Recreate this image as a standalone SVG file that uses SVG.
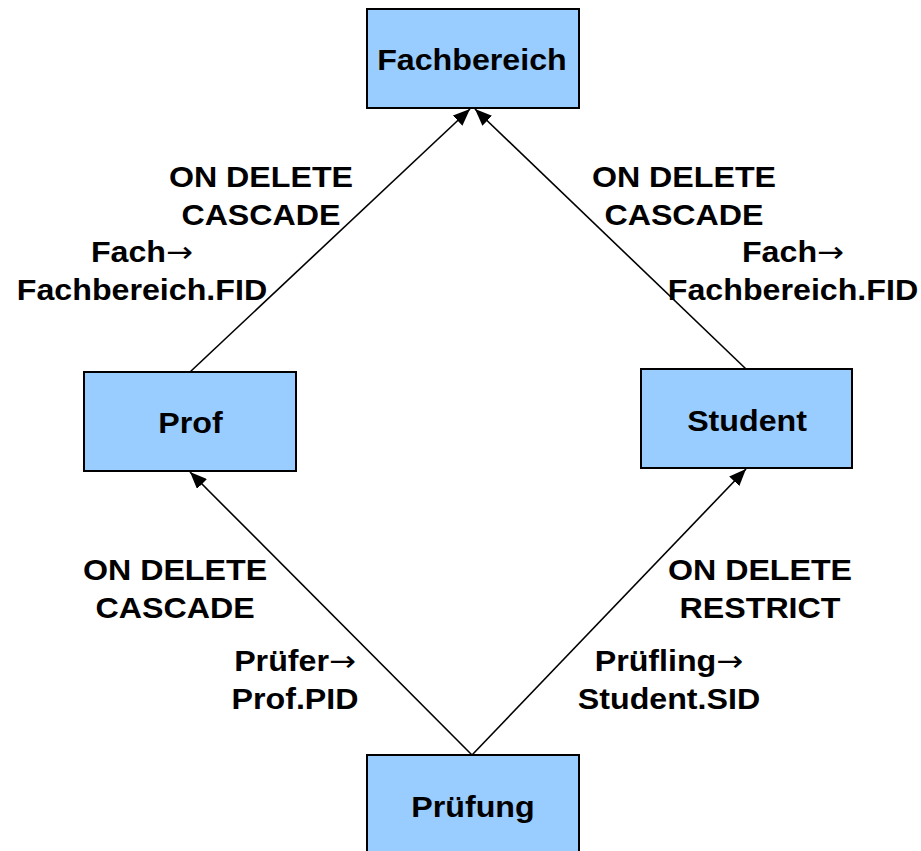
<svg xmlns="http://www.w3.org/2000/svg" width="921" height="851" viewBox="0 0 921 851">
<style>
.box{fill:#99ccff;stroke:#000;stroke-width:2}
.lbl{font-family:"Liberation Sans",Arial,sans-serif;font-weight:bold;font-size:29px;fill:#000;text-anchor:middle}
.ar{font-family:"DejaVu Sans",sans-serif;font-weight:normal}
.edge{stroke:#000;stroke-width:1.6;fill:none;marker-end:url(#ah)}
</style>
<defs>
<marker id="ah" markerUnits="userSpaceOnUse" markerWidth="18" markerHeight="14" refX="17" refY="7" orient="auto">
<path d="M0,0 L17,7 L0,14 Z" fill="#000"/>
</marker>
</defs>
<rect width="921" height="851" fill="#fff"/>
<g id="connectors">
<line class="edge" x1="190" y1="372" x2="470" y2="109"/>
<line class="edge" x1="746" y1="369" x2="475" y2="109"/>
<line class="edge" x1="472" y1="755" x2="190" y2="472"/>
<line class="edge" x1="472" y1="755" x2="746" y2="469"/>
</g>
<g id="fachbereich">
<rect class="box" x="367" y="9" width="212" height="99"/>
<text class="lbl" transform="scale(1.11 1)" x="425.2" y="70">Fachbereich</text>
</g>
<g id="prof">
<rect class="box" x="84" y="372" width="212" height="99"/>
<text class="lbl" transform="scale(1.11 1)" x="171.6" y="433">Prof</text>
</g>
<g id="student">
<rect class="box" x="641" y="369" width="211" height="99"/>
<text class="lbl" transform="scale(1.11 1)" x="673" y="431">Student</text>
</g>
<g id="pruefung">
<rect class="box" x="367" y="755" width="212" height="110"/>
<text class="lbl" transform="scale(1.11 1)" x="426.1" y="817">Prüfung</text>
</g>
<g id="labels" transform="scale(1.11 1)">
<text class="lbl" x="235.1" y="187">ON DELETE</text>
<text class="lbl" x="235.1" y="225">CASCADE</text>
<text class="lbl" x="127.9" y="262">Fach<tspan class="ar">→</tspan></text>
<text class="lbl" x="127.9" y="300">Fachbereich.FID</text>
<text class="lbl" x="616.2" y="187">ON DELETE</text>
<text class="lbl" x="616.2" y="225">CASCADE</text>
<text class="lbl" x="714.4" y="262">Fach<tspan class="ar">→</tspan></text>
<text class="lbl" x="714.4" y="300">Fachbereich.FID</text>
<text class="lbl" x="157.7" y="580">ON DELETE</text>
<text class="lbl" x="157.7" y="618">CASCADE</text>
<text class="lbl" x="265.8" y="671">Prüfer<tspan class="ar">→</tspan></text>
<text class="lbl" x="265.8" y="709">Prof.PID</text>
<text class="lbl" x="684.7" y="580">ON DELETE</text>
<text class="lbl" x="684.7" y="618">RESTRICT</text>
<text class="lbl" x="602.7" y="671">Prüfling<tspan class="ar">→</tspan></text>
<text class="lbl" x="602.7" y="709">Student.SID</text>
</g>
</svg>
